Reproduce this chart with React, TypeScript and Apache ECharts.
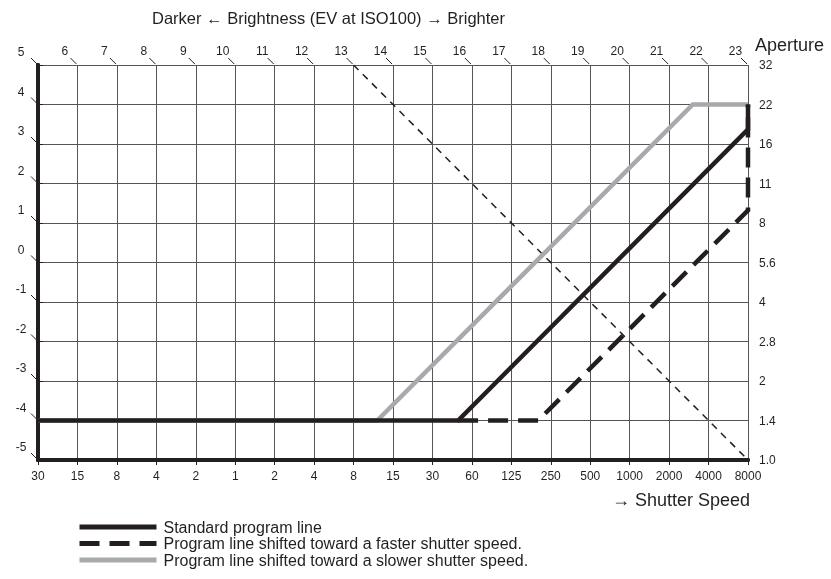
import React, { useEffect, useRef } from "react";
import * as echarts from "echarts";

const shutterLabels = ["30", "15", "8", "4", "2", "1", "2", "4", "8", "15", "30", "60", "125", "250", "500", "1000", "2000", "4000", "8000"];
const apertureLabels = ["1.0", "1.4", "2", "2.8", "4", "5.6", "8", "11", "16", "22", "32"];
const evTopLabels = [6, 7, 8, 9, 10, 11, 12, 13, 14, 15, 16, 17, 18, 19, 20, 21, 22, 23];
const evLeftLabels = [-5, -4, -3, -2, -1, 0, 1, 2, 3, 4, 5];

const standardLine = [[0, 1], [10.65, 1], [18, 8.37], [18, 9]];
const fasterLine = [[10.65, 1], [12.68, 1], [18, 6.32], [18, 9]];
const slowerLine = [[0, 1], [8.6, 1], [16.6, 9], [18, 9]];
const ev13Line = [[8, 10], [18, 0]];

const seriesNames = [
  "Standard program line",
  "Program line shifted toward a faster shutter speed.",
  "Program line shifted toward a slower shutter speed.",
];

const FONT = "'Liberation Sans', Arial, Helvetica, sans-serif";
const INK = "#231f20";

export default function App() {
  const ref = useRef<HTMLDivElement>(null);
  useEffect(() => {
    if (!ref.current) return;
    const chart = echarts.init(ref.current, undefined, { renderer: "svg" });
    const evData: any[] = [];
    evTopLabels.forEach((v, i) => evData.push([i + 1, 10, v, 0]));
    evLeftLabels.forEach((v, j) => evData.push([0, j, v, 1]));

    chart.setOption({
      animation: false,
      textStyle: { fontFamily: FONT },
      grid: { left: 38, top: 65, width: 710, height: 395, containLabel: false },
      legend: {
        data: seriesNames,
        orient: "vertical",
        left: 72,
        top: 514,
        itemWidth: 77,
        itemHeight: 15,
        itemGap: 0.5,
        itemStyle: { opacity: 0 },
        lineStyle: { width: 5 },
        textStyle: { fontSize: 16, color: INK, fontFamily: FONT, lineHeight: 15, padding: [0, 0, 0, 2] },
      },
      graphic: [
        {
          type: "text",
          x: 152,
          y: 18,
          style: { text: "Darker \u2190 Brightness (EV at ISO100) \u2192 Brighter", fontSize: 16.5, fill: INK, fontFamily: FONT, align: "left", verticalAlign: "middle" },
        },
        {
          type: "text",
          x: 755,
          y: 45,
          style: { text: "Aperture", fontSize: 18, fill: INK, fontFamily: FONT, align: "left", verticalAlign: "middle" },
        },
        {
          type: "text",
          x: 750,
          y: 500,
          style: { text: "\u2192 Shutter Speed", fontSize: 18, fill: INK, fontFamily: FONT, align: "right", verticalAlign: "middle" },
        },
      ],
      xAxis: [
        {
          type: "value",
          position: "bottom",
          min: 0,
          max: 18,
          interval: 1,
          axisLine: { show: true, lineStyle: { color: INK, width: 4 } },
          axisTick: { show: true, length: 5, lineStyle: { color: INK, width: 1 } },
          axisLabel: { margin: 10, fontSize: 12, color: INK, fontFamily: FONT, formatter: (v: number) => shutterLabels[Math.round(v)] ?? "" },
          splitLine: { show: true, lineStyle: { color: "#555", width: 1 } },
        },
        {
          type: "value",
          position: "top",
          min: 0,
          max: 18,
          interval: 1,
          axisLine: { show: true, lineStyle: { color: INK, width: 4 } },
          axisTick: { show: false },
          axisLabel: { show: false },
          splitLine: { show: false },
        },
      ],
      yAxis: [
        {
          type: "value",
          position: "left",
          min: 0,
          max: 10,
          interval: 1,
          axisLine: { show: true, lineStyle: { color: INK, width: 4 } },
          axisTick: { show: false },
          axisLabel: { show: false },
          splitLine: { show: true, lineStyle: { color: "#555", width: 1 } },
        },
        {
          type: "value",
          position: "right",
          min: 0,
          max: 10,
          interval: 1,
          axisLine: { show: true, lineStyle: { color: INK, width: 4 } },
          axisTick: { show: true, length: 5, lineStyle: { color: INK, width: 1 } },
          axisLabel: { margin: 11, fontSize: 12, color: INK, fontFamily: FONT, align: "left", formatter: (v: number) => apertureLabels[Math.round(v)] ?? "" },
          splitLine: { show: false },
        },
      ],
      series: [
        {
          name: seriesNames[2],
          type: "line",
          data: slowerLine,
          symbol: "none",
          z: 3,
          itemStyle: { color: "#a7a9ac", opacity: 0 },
          lineStyle: { color: "#a7a9ac", width: 4.5, type: "solid", cap: "butt", join: "miter" },
        },
        {
          name: seriesNames[0],
          type: "line",
          data: standardLine,
          symbol: "none",
          z: 4,
          itemStyle: { color: INK, opacity: 0 },
          lineStyle: { color: INK, width: 4.5, type: "solid", cap: "butt", join: "miter" },
        },
        {
          name: seriesNames[1],
          type: "line",
          data: fasterLine,
          symbol: "none",
          z: 5,
          itemStyle: { color: INK, opacity: 0 },
          lineStyle: { color: INK, width: 4.5, type: [20, 10], cap: "butt", join: "miter" },
        },
        {
          name: "EV13",
          type: "line",
          data: ev13Line,
          symbol: "none",
          z: 2,
          lineStyle: { color: INK, width: 1.5, type: [7, 6] },
        },
        {
          name: "evTicks",
          type: "custom",
          data: evData,
          z: 6,
          silent: true,
          renderItem: (params: any, api: any) => {
            const p = api.coord([api.value(0), api.value(1)]);
            const side = api.value(3);
            const dx = side === 1 ? -17 : -12.5;
            const dy = side === 1 ? -13 : -14;
            return {
              type: "group",
              children: [
                { type: "line", shape: { x1: p[0] - 7, y1: p[1] - 7, x2: p[0] - 1, y2: p[1] - 1 }, style: { stroke: INK, lineWidth: 1 } },
                {
                  type: "text",
                  x: p[0] + dx,
                  y: p[1] + dy,
                  style: { text: String(api.value(2)), fontSize: 12, fill: INK, fontFamily: FONT, align: "center", verticalAlign: "middle" },
                },
              ],
            };
          },
        },
      ],
    });
    return () => chart.dispose();
  }, []);
  return <div ref={ref} style={{ position: "fixed", left: 0, top: 0, width: 831, height: 579 }} />;
}
